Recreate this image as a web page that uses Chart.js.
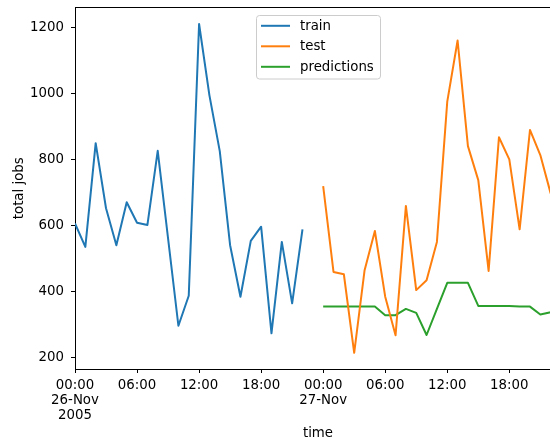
<!DOCTYPE html>
<html>
<head>
<meta charset="utf-8">
<script src="https://cdn.jsdelivr.net/npm/chart.js@4"></script>
<style>
  html, body { margin: 0; padding: 0; background: #fff; overflow: hidden; }
  /* the axes run a little past the right edge of the visible area */
  #wrap { width: 550px; height: 444px; overflow: hidden; }
  #chart { display: block; }
</style>
</head>
<body>
<div id="wrap"><canvas id="chart" width="561" height="444"></canvas></div>
<script>
// Hours since 26-Nov-2005 00:00
const trainHours = [0, 1, 2, 3, 4, 5, 6, 7, 8, 9, 10, 11, 12, 13, 14, 15, 16, 17, 18, 19, 20, 21, 22];
const testHours = [24, 25, 26, 27, 28, 29, 30, 31, 32, 33, 34, 35, 36, 37, 38, 39, 40, 41, 42, 43, 44, 45, 46];

const trainJobs = [607, 536, 850, 653, 541, 671, 609, 602, 827, 562, 297, 388, 1211, 995, 826, 541, 385, 554, 597, 274, 551, 365, 589];
const testJobs = [720, 460, 453, 215, 464, 584, 385, 268, 660, 405, 435, 551, 976, 1161, 841, 738, 463, 868, 801, 589, 890, 814, 698];
const predictedJobs = [355, 355, 355, 355, 355, 355, 329, 329, 348, 336, 269, 348, 427, 427, 427, 357, 357, 357, 357, 355, 355, 331, 338];

const xTickHours = [0, 6, 12, 18, 24, 30, 36, 42];
const xTickLabels = [
  ['00:00', '26-Nov', '2005'], '06:00', '12:00', '18:00',
  ['00:00', '27-Nov'], '06:00', '12:00', '18:00'
];
const yTicks = [200, 400, 600, 800, 1000, 1200];

const FONT = { family: '"DejaVu Sans", sans-serif', size: 13.33, lineHeight: 1.15 };

const pairs = (xs, ys) => xs.map((x, i) => ({ x: x, y: ys[i] }));

// Top spine of the axes box
const topSpine = {
  id: 'topSpine',
  afterDraw(chart) {
    const { ctx, chartArea } = chart;
    ctx.save();
    ctx.strokeStyle = '#000';
    ctx.lineWidth = 1;
    ctx.beginPath();
    ctx.moveTo(chartArea.left, chartArea.top);
    ctx.lineTo(chartArea.right, chartArea.top);
    ctx.stroke();
    ctx.restore();
  }
};

// Boxed legend at the upper centre of the axes
const boxLegend = {
  id: 'boxLegend',
  afterDraw(chart) {
    const { ctx, chartArea } = chart;
    const sets = chart.data.datasets;
    const w = 124, rowH = 20.5, h = 63.5;
    const cx = (chartArea.left + chartArea.right) / 2;
    const x0 = Math.round(cx - w / 2), y0 = Math.round(chartArea.top + 7);
    ctx.save();
    ctx.beginPath();
    ctx.roundRect(x0 + 0.5, y0 + 0.5, w, h, 3);
    ctx.fillStyle = 'rgba(255,255,255,0.8)';
    ctx.fill();
    ctx.strokeStyle = '#cccccc';
    ctx.lineWidth = 1;
    ctx.stroke();
    ctx.font = `${FONT.size}px ${FONT.family}`;
    ctx.textBaseline = 'middle';
    ctx.textAlign = 'left';
    sets.forEach((ds, i) => {
      const y = y0 + 10.8 + i * rowH;
      ctx.strokeStyle = ds.borderColor;
      ctx.lineWidth = 2;
      ctx.beginPath();
      ctx.moveTo(x0 + 5, y);
      ctx.lineTo(x0 + 34, y);
      ctx.stroke();
      ctx.fillStyle = '#000';
      ctx.fillText(ds.label, x0 + 44, y + 0.5);
    });
    ctx.restore();
  }
};

new Chart(document.getElementById('chart'), {
  type: 'line',
  data: {
    datasets: [
      { label: 'train', data: pairs(trainHours, trainJobs), borderColor: '#1f77b4' },
      { label: 'test', data: pairs(testHours, testJobs), borderColor: '#ff7f0e' },
      { label: 'predictions', data: pairs(testHours, predictedJobs), borderColor: '#2ca02c' }
    ]
  },
  options: {
    responsive: false,
    animation: false,
    devicePixelRatio: 1,
    layout: { autoPadding: false, padding: { top: 7.5, right: 0, left: 0, bottom: 0 } },
    elements: {
      line: { borderWidth: 2, tension: 0, fill: false, borderJoinStyle: 'round', borderCapStyle: 'butt' },
      point: { radius: 0, hoverRadius: 0 }
    },
    plugins: { legend: { display: false }, tooltip: { enabled: false } },
    scales: {
      x: {
        type: 'linear',
        min: 0,
        max: 47,
        afterBuildTicks(scale) { scale.ticks = xTickHours.map(v => ({ value: v })); },
        afterFit(scale) { scale.height = 75; scale.paddingLeft = 0; scale.paddingRight = 0; },
        ticks: {
          autoSkip: false,
          maxRotation: 0,
          padding: 4.5,
          color: '#000',
          font: FONT,
          callback(value) {
            const i = xTickHours.indexOf(value);
            return i >= 0 ? xTickLabels[i] : '';
          }
        },
        grid: { display: true, drawOnChartArea: false, drawTicks: true, tickLength: 4, tickColor: '#000', tickWidth: 1 },
        border: { display: true, color: '#000', width: 1 },
        title: { display: true, text: 'time', color: '#000', font: FONT, padding: { top: 0, bottom: 3 } }
      },
      y: {
        type: 'linear',
        min: 166,
        max: 1261,
        afterBuildTicks(scale) { scale.ticks = yTicks.map(v => ({ value: v })); },
        afterFit(scale) { scale.width = 75; scale.paddingTop = 0; scale.paddingBottom = 0; },
        ticks: { padding: 7, color: '#000', font: FONT, callback: (v) => String(v) },
        grid: { display: true, drawOnChartArea: false, drawTicks: true, tickLength: 4, tickColor: '#000', tickWidth: 1 },
        border: { display: true, color: '#000', width: 1 },
        title: { display: true, text: 'total jobs', color: '#000', font: FONT, padding: { top: 12, bottom: 0 } }
      }
    }
  },
  plugins: [topSpine, boxLegend]
});
</script>
</body>
</html>
